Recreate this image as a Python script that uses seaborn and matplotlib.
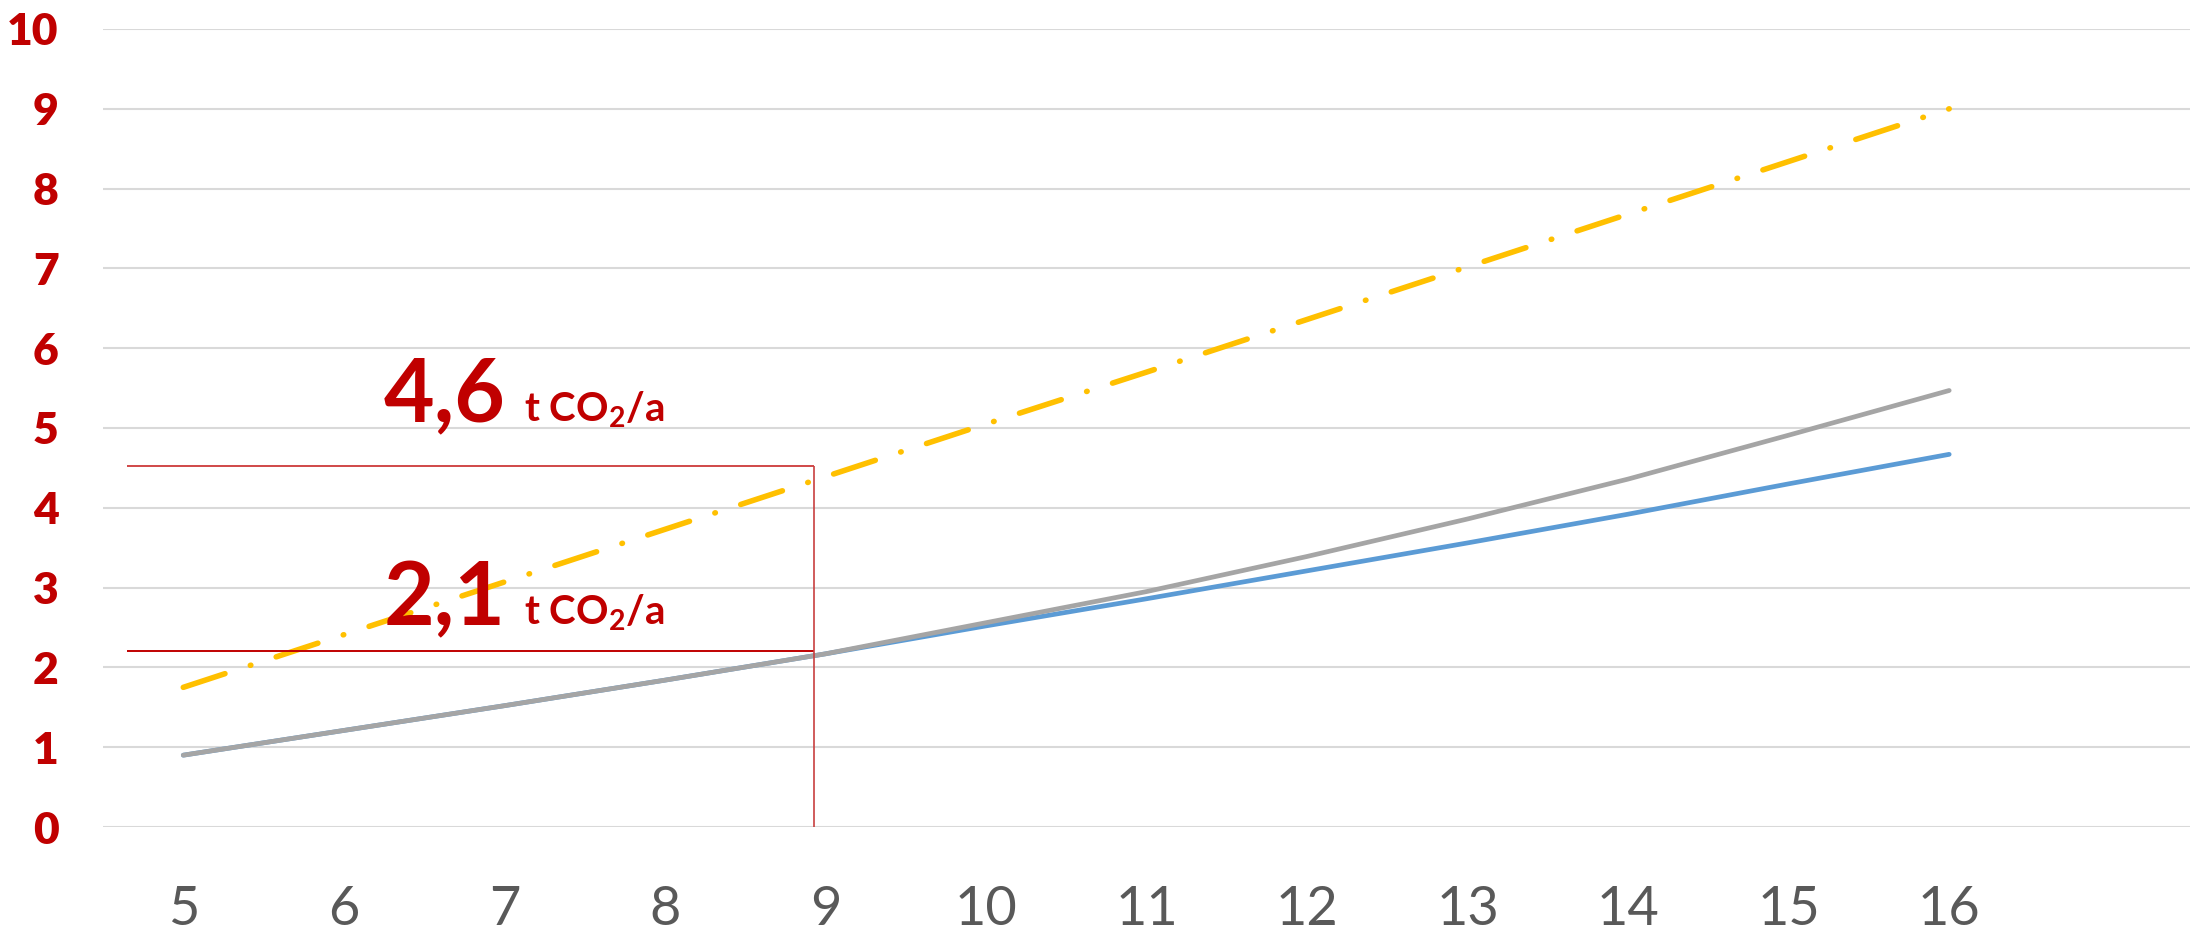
import matplotlib
matplotlib.use('Agg')
import numpy as np
import pandas as pd
import matplotlib.pyplot as plt
import seaborn as sns

# Daten
years = [5, 6, 7, 8, 9, 10, 11, 12, 13, 14, 15, 16]
tick_labels = ['5', '6', '7', '8', '9', '10', '11', '12', '13', '14', '15', '16']
line_yellow = [1.75, 2.41, 3.07, 3.73, 4.39, 5.05, 5.70, 6.36, 7.02, 7.68, 8.34, 9.00]
line_gray = [0.90, 1.21, 1.52, 1.84, 2.17, 2.56, 2.95, 3.39, 3.86, 4.36, 4.91, 5.47]
line_blue = [0.90, 1.21, 1.52, 1.84, 2.17, 2.52, 2.86, 3.21, 3.56, 3.92, 4.30, 4.67]

# Markierungen
ref_x = 8.93
ref_left = 4.65
ref_high = 4.53
ref_low = 2.21
label_high = '4,6'
label_low = '2,1'
unit_text = r't CO$_2$/a'

sns.set_style('white')
plt.rcParams['font.family'] = ['Lato', 'DejaVu Sans']
plt.rcParams['mathtext.fontset'] = 'custom'
plt.rcParams['mathtext.rm'] = 'Lato:bold'
plt.rcParams['mathtext.it'] = 'Lato:bold:italic'
plt.rcParams['mathtext.bf'] = 'Lato:bold'

fig = plt.figure(figsize=(21.9, 9.39), dpi=100)
ax = fig.add_axes([103 / 2190, 1 - 827 / 939, 1 - 103 / 2190, (827 - 29) / 939])

sns.lineplot(x=years, y=line_blue, color='#5B9BD5', lw=3.4, ax=ax,
             solid_capstyle='round')
sns.lineplot(x=years, y=line_gray, color='#A5A5A5', lw=3.4, ax=ax,
             solid_capstyle='round')
sns.lineplot(x=years, y=line_yellow, color='#FFC000', lw=4.0, ax=ax,
             dash_capstyle='round')
ax.lines[-1].set_dashes((7.9, 4.8, 0.1, 4.8))

# rote Hilfslinien
ax.hlines(ref_high, ref_left, ref_x, color='#D04848', lw=1.4)
ax.hlines(ref_low, ref_left, ref_x, color='#C00000', lw=1.4)
ax.vlines(ref_x, 0, ref_high, color='#C84040', lw=1.2)

ax.text(6.25, 5.08, label_high, color='#C00000', fontsize=63, fontweight='bold',
        ha='left', va='baseline')
ax.text(7.12, 5.08, unit_text, color='#C00000', fontsize=29, fontweight='bold',
        ha='left', va='baseline')
ax.text(6.25, 2.53, label_low, color='#C00000', fontsize=63, fontweight='bold',
        ha='left', va='baseline')
ax.text(7.12, 2.53, unit_text, color='#C00000', fontsize=29, fontweight='bold',
        ha='left', va='baseline')

ax.set_xlim(4.5, 17.5)
ax.set_ylim(0, 10)
ax.set_yticks(range(0, 11))
ax.set_xticks(years, tick_labels)
ax.yaxis.grid(True, color='#D9D9D9', lw=1.5)
ax.xaxis.grid(False)
ax.set_axisbelow(True)
sns.despine(ax=ax, left=True, bottom=True)

ax.tick_params(axis='y', length=0, pad=32, labelsize=32, labelcolor='#C00000')
ax.tick_params(axis='x', length=0, pad=42, labelsize=39, labelcolor='#595959')
for lbl in ax.get_yticklabels():
    lbl.set_fontweight('heavy')

fig.savefig('out.png', dpi=100)
